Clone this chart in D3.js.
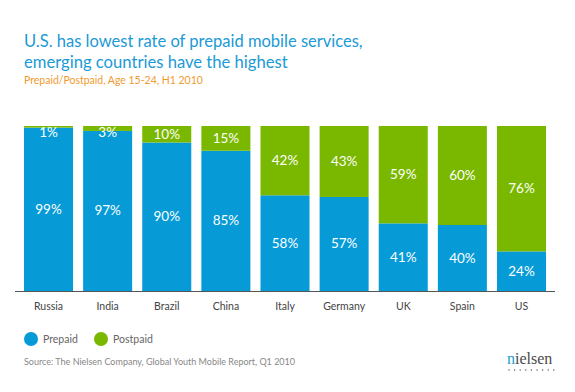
<!DOCTYPE html>
<html><head><meta charset="utf-8">
<script src="https://cdn.jsdelivr.net/npm/d3@7"></script>
<style>body{margin:0;background:#fff}svg{display:block}</style>
</head><body><svg id="c" width="575" height="392"></svg>
<script>
const categories = ["Russia","India","Brazil","China","Italy","Germany","UK","Spain","US"];
const prepaid = [99,97,90,85,58,57,41,40,24];
const postpaid = [1,3,10,15,42,43,59,60,76];
const seriesNames = ["Prepaid","Postpaid"];
const colors = ["#069bd7","#7ab800"];

const svg = d3.select("#c");
const font = "Lato, 'Open Sans', sans-serif";

function fit(sel, w){
  const n = sel.node(); let fs = +sel.attr("font-size");
  const len = n.getComputedTextLength();
  if (len > 0) sel.attr("font-size", (fs * w / len).toFixed(2));
  return sel;
}

fit(svg.append("text").attr("x",24).attr("y",47).attr("font-family",font).attr("font-size",18)
  .attr("fill","#1a9ad6").text("U.S. has lowest rate of prepaid mobile services,"), 339);
fit(svg.append("text").attr("x",24).attr("y",68).attr("font-family",font).attr("font-size",18)
  .attr("fill","#1a9ad6").text("emerging countries have the highest"), 264);
fit(svg.append("text").attr("x",24).attr("y",84).attr("font-family",font).attr("font-size",11)
  .attr("fill","#f29a2e").text("Prepaid/Postpaid, Age 15-24, H1 2010"), 179);

const x = d3.scaleBand().domain(categories).range([24,546]).paddingInner(0.171).paddingOuter(0);
const y = d3.scaleLinear().domain([0,100]).range([291,126]);

const data = categories.map((c,i)=>({cat:c, pre:prepaid[i], post:postpaid[i]}));
const stack = d3.stack().keys(["pre","post"])(data);

const g = svg.append("g");
stack.forEach((layer,li)=>{
  g.selectAll(null).data(layer).join("rect")
    .attr("x",d=>x(d.data.cat)).attr("width",x.bandwidth())
    .attr("y",d=>y(d[1])).attr("height",d=>y(d[0])-y(d[1]))
    .attr("fill",colors[li]);
  g.selectAll(null).data(layer).join("text")
    .attr("x",d=>x(d.data.cat)+x.bandwidth()/2)
    .attr("y",d=>{const m=(y(d[0])+y(d[1]))/2; return Math.max(m, 126+6)+4.5;})
    .attr("text-anchor","middle").attr("font-family",font).attr("font-size",13.5)
    .attr("fill","#fff").text(d=>(d[1]-d[0])+"%");
});

svg.append("line").attr("x1",15).attr("x2",555).attr("y1",291.5).attr("y2",291.5)
  .attr("stroke","#555").attr("stroke-width",1.2);

const xAxis = svg.append("g").attr("transform","translate(0,291)")
  .call(d3.axisBottom(x).tickSize(0).tickPadding(12));
xAxis.select(".domain").remove();
xAxis.selectAll("text").attr("font-family",font).attr("font-size",10.5).attr("fill","#444");

const leg = svg.append("g");
const legX = [31,101];
seriesNames.forEach((n,i)=>{
  leg.append("circle").attr("cx",legX[i]).attr("cy",339).attr("r",7).attr("fill",colors[i]);
  leg.append("text").attr("x",legX[i]+12).attr("y",343).attr("font-family",font).attr("font-size",10.5)
    .attr("fill","#666").text(n);
});
fit(svg.append("text").attr("x",24).attr("y",365).attr("font-family",font).attr("font-size",10)
  .attr("fill","#888").text("Source: The Nielsen Company, Global Youth Mobile Report, Q1 2010"), 271);

const logo = svg.append("text").attr("x",507).attr("y",364).attr("font-family","'Liberation Serif', serif")
  .attr("font-size",16).attr("fill","#4a4a4a");
logo.append("tspan").attr("fill","#1a9ad6").text("n");
logo.append("tspan").text("ielsen");
d3.range(9).forEach(i=>{
  svg.append("circle").attr("cx",509+i*5.6).attr("cy",370).attr("r",0.7).attr("fill","#555");
});
</script></body></html>
